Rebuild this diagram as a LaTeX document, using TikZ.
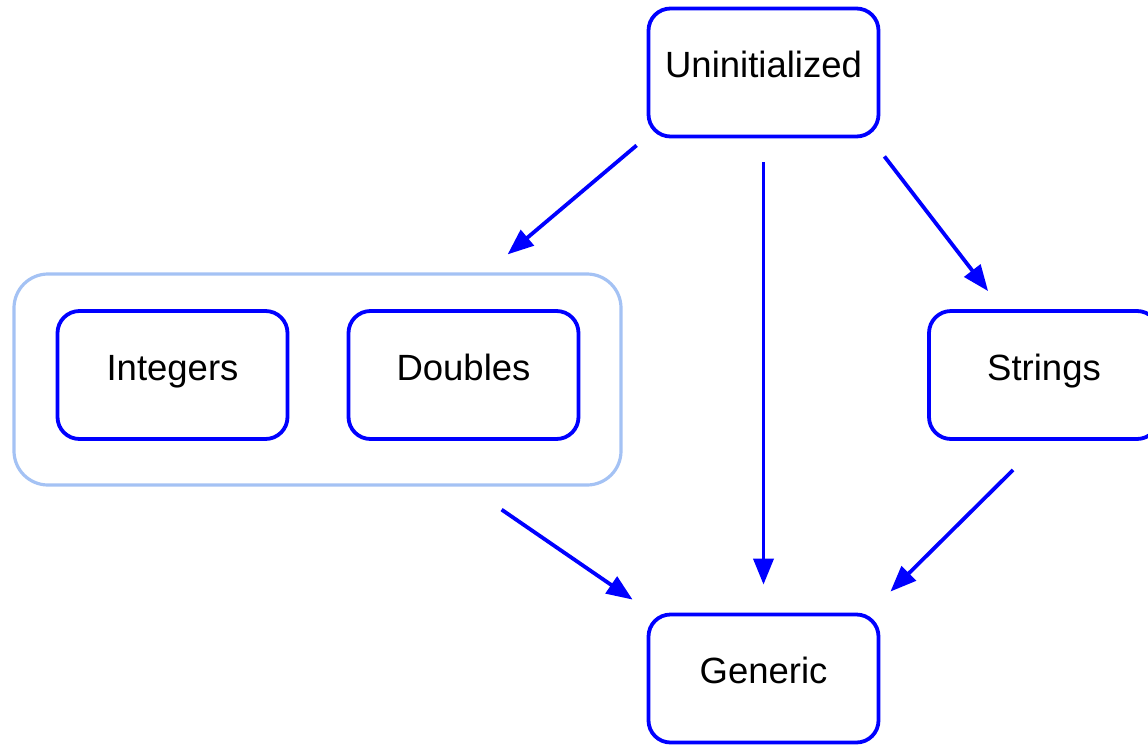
\documentclass[tikz,border=0pt]{standalone}
\usepackage{fontspec}
\setmainfont{Liberation Sans}
\usetikzlibrary{arrows.meta}
\definecolor{boxblue}{RGB}{0,0,255}
\definecolor{grpblue}{RGB}{164,194,244}
\begin{document}
\begin{tikzpicture}[x=1pt,y=-1pt,
  box/.style={draw=boxblue,line width=3.8pt,rounded corners=22pt,minimum width=230pt,minimum height=128pt,inner sep=0pt,text height=20pt,text depth=10pt,font=\fontsize{36.5}{40}\selectfont},
  grp/.style={draw=grpblue,line width=3.2pt,rounded corners=34pt,minimum width=607pt,minimum height=211pt,inner sep=0pt},
  arr/.style={draw=boxblue,line width=3.8pt,-{Triangle[length=26pt,width=20pt]}}]
\useasboundingbox (0,0) rectangle (1148,745);
\clip (0,0) rectangle (1148,745);
\node[grp] (G) at (317.5,379.5) {};
\node[box] (U) at (763.5,72.5) {Uninitialized};
\node[box] (I) at (172.5,375) {Integers};
\node[box] (D) at (463.5,375) {Doubles};
\node[box] (S) at (1044,375) {Strings};
\node[box] (E) at (763.5,678.5) {Generic};
\draw[arr] ([shift={(-10,7)}]U.south west) -- ([shift={(-115,-18)}]G.north east);
\draw[arr] ([shift={(0,24)}]U.south) -- ([shift={(0,-28)}]E.north);
\draw[arr] ([shift={(4,18)}]U.south east) -- ([shift={(61,-18)}]S.north west);
\draw[arr] ([shift={(-121,23)}]G.south east) -- ([shift={(-14,-13)}]E.north west);
\draw[arr] ([shift={(86,29)}]S.south west) -- ([shift={(10,-21)}]E.north east);
\end{tikzpicture}
\end{document}
